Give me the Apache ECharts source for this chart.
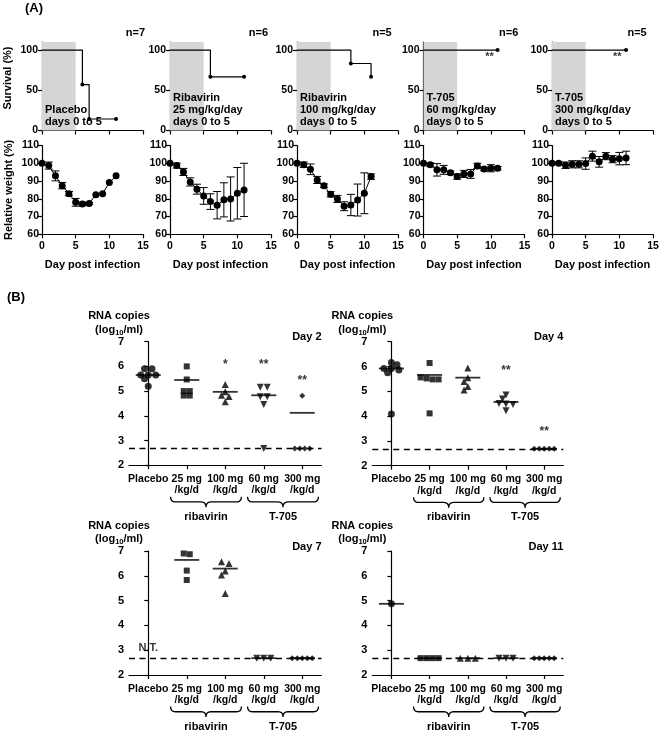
<!DOCTYPE html>
<html><head><meta charset="utf-8">
<script src="https://cdn.jsdelivr.net/npm/echarts@6/dist/echarts.min.js"></script>
<style>html,body{margin:0;padding:0;background:#fff}#c{width:660px;height:734px}</style>
</head><body><div id="c"></div>
<script>
// ================= DATA =================
// ---- Panel A: survival (day, % surviving) ----
const survPlacebo = [[0,100],[6,57.1],[7,14.3],[11,14.3]];
const survRib25   = [[0,100],[6,66.7],[11,66.7]];
const survRib100  = [[0,100],[8,83.3],[11,66.7]];
const survT60     = [[0,100],[11,100]];
const survT300    = [[0,100],[11,100]];
const nLabels = ['n=7','n=6','n=5','n=6','n=5'];
const groupTexts = ['Placebo\ndays 0 to 5','Ribavirin\n25 mg/kg/day\ndays 0 to 5','Ribavirin\n100 mg/kg/day\ndays 0 to 5','T-705\n60 mg/kg/day\ndays 0 to 5','T-705\n300 mg/kg/day\ndays 0 to 5'];
const survSig = [[],[],[],[[9.8,91,'**']],[[9.7,91,'**']]];
const survTicks = [0,50,100];
// ---- Panel A: relative weight (%) mean and SD by day ----
const weightDays = [0,1,2,3,4,5,6,7,8,9,10,11];
const wPlacebo = [100,98.7,92.9,87.4,82.9,78,77.1,77.4,82.3,82.9,89.1,92.9];
const ePlacebo = [0,2,2.8,1.8,1.2,2.2,1,0.6,0,0,0,0];
const wRib25   = [100,98.7,95.1,89.5,85.4,81.6,78.4,76.4,79.4,79.9,83.1,85];
const eRib25   = [0,1.4,2,2.3,2.8,4.7,4.4,7.7,9.6,12.4,14.5,15];
const wRib100  = [100,99.2,96.6,90.6,87.4,82.5,79.9,75.8,76.5,79.3,83.1,92.5];
const eRib100  = [0,1.5,3,2,1,1.5,2,2.5,6,9,11.5,1.5];
const wT60     = [100,99.2,96.3,96.3,94.6,92.5,94,94,98.5,96.8,97.2,97.2];
const eT60     = [0,1,3.5,2.5,1,1.5,2,2.5,1.5,1,2,1];
const wT300    = [100,100,98.9,99.4,99.4,99.8,104,100.8,104,102.3,102.6,103];
const eT300    = [0,0.8,1.8,2,2,3.2,2.8,3,2,2,3.5,3.8];
// ---- Panel B: RNA copies (log10/ml) ----
const catLabels = ['Placebo','25 mg\n/kg/d','100 mg\n/kg/d','60 mg\n/kg/d','300 mg\n/kg/d'];
const LOD = 2.68;
const d2Placebo = [5.9,5.9,5.65,5.65,5.65,5.5,5.2];
const d2Rib25   = [6.0,5.47,5.0,5.0,4.82,4.82];
const d2Rib100  = [5.27,4.97,4.83,4.78,4.57];
const d2T60     = [5.16,5.16,4.77,4.77,4.46,LOD];
const d2T300    = [4.81,LOD,LOD,LOD,LOD];
const d2Means   = [5.65,5.45,4.97,4.83,4.12];
const d2Sig     = [[2,6.06,'*'],[3,6.06,'**'],[4,5.42,'**']];
const d4Placebo = [6.16,6.07,5.92,5.92,5.86,5.75,4.08];
const d4Rib25   = [6.14,5.56,5.52,5.48,5.48,4.11];
const d4Rib100  = [5.94,5.55,5.4,5.19,5.05];
const d4T60     = [4.85,4.69,4.51,4.49,4.47,4.22];
const d4T300    = [LOD,LOD,LOD,LOD,LOD];
const d4Means   = [5.92,5.66,5.55,4.57,LOD];
const d4Sig     = [[3,5.82,'**'],[4,3.37,'**']];
const d7Placebo = [];
const d7Rib25   = [6.87,6.9,6.21,5.83];
const d7Rib100  = [6.57,6.5,6.19,6.03,5.29];
const d7T60     = [LOD,LOD,LOD];
const d7T300    = [LOD,LOD,LOD,LOD,LOD];
const d7Means   = [null,6.64,6.29,LOD,LOD];
const d7Sig     = [[0,3.08,'N.T.']];
const d11Placebo = [4.87];
const d11Rib25   = [LOD,LOD,LOD,LOD];
const d11Rib100  = [LOD,LOD,LOD];
const d11T60     = [LOD,LOD,LOD];
const d11T300    = [LOD,LOD,LOD,LOD,LOD];
const d11Means   = [4.87,LOD,LOD,LOD,LOD];
const d11Sig     = [];

// ================= LAYOUT / STYLE =================
const FONT = '"Liberation Sans", Arial, Helvetica, sans-serif';
const BLACK = '#000';
const GREY = '#d5d5d5';
const aLefts = [42,170,297,423.5,552], aW = 101;
const survTop = 42, survH = 88.5, wtTop = 145.5, wtH = 88.8;
const nRight = [145,268,391.7,518.3,646.7];
const bGrids = [
  {left:129, top:341.7, width:192.5, height:123.5, title:'Day 2'},
  {left:372.3, top:341.7, width:191, height:124, title:'Day 4'},
  {left:129, top:551, width:192.5, height:124, title:'Day 7'},
  {left:372.3, top:551, width:191, height:124, title:'Day 11'}
];
const bData = [
  {groups:[d2Placebo,d2Rib25,d2Rib100,d2T60,d2T300], means:d2Means, sig:d2Sig},
  {groups:[d4Placebo,d4Rib25,d4Rib100,d4T60,d4T300], means:d4Means, sig:d4Sig},
  {groups:[d7Placebo,d7Rib25,d7Rib100,d7T60,d7T300], means:d7Means, sig:d7Sig},
  {groups:[d11Placebo,d11Rib25,d11Rib100,d11T60,d11T300], means:d11Means, sig:d11Sig}
];
const symbols = ['circle','rect','triangle','triangle','diamond'];
const symRot  = [0,0,0,180,0];
const symSize = [7,6,7,7,6];
const symGap  = [7.5,6,7.5,7,5];

const lab = {color:BLACK, fontFamily:FONT, fontWeight:'bold'};
const axLine = {show:true, lineStyle:{color:BLACK, width:1.2}};
const axTick = {show:true, length:4, inside:false, lineStyle:{color:BLACK, width:1.2}};

// beeswarm layout: spreads tied / close values horizontally (px offsets -> data units)
function swarm(vals, s, pxX, pxY){
  const dcoll = 0.65*s;
  const sorted = vals.slice().sort((a,b)=>b-a);
  const groups = [];
  for (const v of sorted){
    const g = groups[groups.length-1];
    if (g && Math.abs(g[0]-v) <= 0.08) g.push(v); else groups.push([v]);
  }
  const cands = [0];
  for (let k=1;k<60;k++){ cands.push(-k*s/4, k*s/4); }
  const placed = [];
  const order = groups.slice().sort((a,b)=> (b.length-a.length) || (b[0]-a[0]));
  for (const g of order){
    const n = g.length;
    const base = g.map((v,j)=>(j-(n-1)/2)*s);
    for (const c of cands){
      const ok = g.every((v,j)=>placed.every(p=>Math.hypot(base[j]+c-p.dx,(v-p.v)*pxY) >= dcoll));
      if (ok){ g.forEach((v,j)=>placed.push({dx:base[j]+c, v:v})); break; }
    }
  }
  return placed.map(p=>[p.dx/pxX, p.v]);
}

function errRender(params, api){
  const x = api.value(0), m = api.value(1), e = api.value(2);
  if (!e) return null;
  const hi = api.coord([x, m+e]), lo = api.coord([x, m-e]);
  const w = 4;
  const st = {stroke:BLACK, lineWidth:1};
  return {type:'group', children:[
    {type:'line', shape:{x1:hi[0],y1:hi[1],x2:lo[0],y2:lo[1]}, style:st},
    {type:'line', shape:{x1:hi[0]-w,y1:hi[1],x2:hi[0]+w,y2:hi[1]}, style:st},
    {type:'line', shape:{x1:lo[0]-w,y1:lo[1],x2:lo[0]+w,y2:lo[1]}, style:st}
  ]};
}

const survData = [survPlacebo,survRib25,survRib100,survT60,survT300];
const wMeans = [wPlacebo,wRib25,wRib100,wT60,wT300];
const wErrs = [ePlacebo,eRib25,eRib100,eT60,eT300];

const grid=[], xAxis=[], yAxis=[], series=[];
function sigSeries(ax, data, fontSize){
  return {type:'scatter', xAxisIndex:ax, yAxisIndex:ax, symbol:'circle', symbolSize:1,
    itemStyle:{color:'rgba(0,0,0,0)'}, z:6, silent:true,
    label:{show:true, position:'inside', formatter:p=>p.data[2], fontSize:fontSize, ...lab},
    data:data};
}

// survival plots
for (let i=0;i<5;i++){
  grid.push({left:aLefts[i], top:survTop, width:aW, height:survH, containLabel:false, outerBoundsMode:'none'});
  xAxis.push({gridIndex:i, type:'value', min:0, max:15, interval:5, axisLine:axLine, axisTick:axTick,
    axisLabel:{show:false}, splitLine:{show:false}});
  yAxis.push({gridIndex:i, type:'value', min:0, max:110, axisLine:axLine,
    axisTick:{...axTick, customValues:survTicks},
    axisLabel:{...lab, fontSize:10.5, margin:4, customValues:survTicks}, splitLine:{show:false}});
  series.push({type:'line', xAxisIndex:i, yAxisIndex:i, step:'end', symbol:'circle', symbolSize:4,
    showSymbol:true, showAllSymbol:true,
    data:survData[i].map((p,j)=> j===0 ? {value:p, symbol:'none'} : {value:p}),
    lineStyle:{color:BLACK, width:1.2}, itemStyle:{color:BLACK}, z:3,
    markArea:{silent:true, itemStyle:{color:GREY}, data:[[{xAxis:0},{xAxis:5}]]}});
  if (survSig[i].length) series.push(sigSeries(i, survSig[i], 11));
}
// weight plots
for (let i=0;i<5;i++){
  const gi = 5+i;
  grid.push({left:aLefts[i], top:wtTop, width:aW, height:wtH, containLabel:false, outerBoundsMode:'none'});
  xAxis.push({gridIndex:gi, type:'value', min:0, max:15, interval:5, axisLine:axLine, axisTick:axTick,
    axisLabel:{...lab, fontSize:10.5, margin:6}, splitLine:{show:false},
    name:'Day post infection', nameLocation:'middle', nameGap:25,
    nameTextStyle:{...lab, fontSize:11}});
  const ya = {gridIndex:gi, type:'value', min:60, max:110, interval:10, axisLine:axLine, axisTick:axTick,
    axisLabel:{...lab, fontSize:10.5, margin:3}, splitLine:{show:false}};
  if (i===0){ Object.assign(ya, {name:'Relative weight (%)', nameLocation:'middle', nameGap:28, nameTextStyle:{...lab, fontSize:11}}); }
  yAxis.push(ya);
  series.push({type:'custom', xAxisIndex:gi, yAxisIndex:gi, renderItem:errRender, z:2,
    data:weightDays.map((d,j)=>[d, wMeans[i][j], wErrs[i][j]])});
  series.push({type:'line', xAxisIndex:gi, yAxisIndex:gi, symbol:'circle', symbolSize:7, showSymbol:true,
    data:weightDays.map((d,j)=>[d, wMeans[i][j]]), lineStyle:{color:BLACK, width:1}, itemStyle:{color:BLACK}, z:3});
}
// RNA plots
const catIdx = [0,1,2,3,4];
bGrids.forEach((g,k)=>{
  const gi = 10+k;
  grid.push({left:g.left, top:g.top, width:g.width, height:g.height, containLabel:false, outerBoundsMode:'none'});
  xAxis.push({gridIndex:gi, type:'value', min:-0.5, max:4.5, axisLine:axLine,
    axisTick:{...axTick, customValues:catIdx},
    axisLabel:{...lab, fontSize:10.5, lineHeight:11.5, margin:8, customValues:catIdx, formatter:v=>catLabels[Math.round(v)]},
    splitLine:{show:false}});
  yAxis.push({gridIndex:gi, type:'value', min:2, max:7, interval:1, axisLine:axLine, axisTick:axTick,
    axisLabel:{...lab, fontSize:11, margin:5}, splitLine:{show:false}});
  const pxX = g.width/5, pxY = g.height/5;
  const bd = bData[k];
  bd.groups.forEach((vals,c)=>{
    if (!vals.length) return;
    const pts = swarm(vals, symGap[c], pxX, pxY).map(p=>[c+p[0], p[1]]);
    series.push({type:'scatter', xAxisIndex:gi, yAxisIndex:gi, symbol:symbols[c], symbolRotate:symRot[c],
      symbolSize:symSize[c], itemStyle:{color:BLACK}, z:3, data:pts});
  });
  series.push({type:'scatter', xAxisIndex:gi, yAxisIndex:gi, symbol:'rect', symbolSize:[25,1.8],
    itemStyle:{color:BLACK}, z:4,
    data:bd.means.map((m,c)=> m==null ? null : [c, m]).filter(d=>d),
    markLine:{silent:true, symbol:['none','none'], label:{show:false},
      lineStyle:{color:BLACK, width:1.4, type:[6,4.5]}, data:[{yAxis:LOD}]}});
  if (bd.sig.length) series.push(sigSeries(gi, bd.sig, bd.sig[0][2]==='N.T.' ? 11 : 12));
});

const chart = echarts.init(document.getElementById('c'));
chart.setOption({animation:false, backgroundColor:'#fff', grid, xAxis, yAxis, series});

// ---------- annotations ----------
const T = (x,y,text,o)=>({type:'text', x:x, y:y, silent:true, z:10,
  style:Object.assign({text:text, fill:BLACK, font:'bold 11px '+FONT, align:'left', verticalAlign:'middle', textAlign:'left', textVerticalAlign:'middle'}, o||{})});
const els = [];
els.push(T(25,8,'(A)',{font:'bold 13px '+FONT}));
els.push(T(7,297,'(B)',{font:'bold 13px '+FONT}));
els.push(Object.assign(T(8,78,'Survival (%)',{align:'center',textAlign:'center'}),{rotation:Math.PI/2}));
for (let i=0;i<5;i++){
  els.push(T(nRight[i],33.3,nLabels[i],{align:'right',textAlign:'right'}));
  els.push(T(aLefts[i]+3,127.5,groupTexts[i],{verticalAlign:'bottom',textVerticalAlign:'bottom',lineHeight:12}));
}
function quad(p0,p1,p2,n){
  const out=[];
  for (let i=0;i<=n;i++){ const t=i/n, u=1-t;
    out.push([u*u*p0[0]+2*u*t*p1[0]+t*t*p2[0], u*u*p0[1]+2*u*t*p1[1]+t*t*p2[1]]); }
  return out;
}
bGrids.forEach((g,k)=>{
  const gi = 10+k;
  const tr = chart.convertToPixel({gridIndex:gi},[4.5,7]);
  const tl = chart.convertToPixel({gridIndex:gi},[-0.5,7]);
  const bl = chart.convertToPixel({gridIndex:gi},[-0.5,2]);
  els.push(T(tr[0],tr[1]-4.5,g.title,{align:'right',textAlign:'right'}));
  els.push(T(tl[0]-10,tl[1]-25.5,'RNA copies',{align:'center',textAlign:'center'}));
  els.push(T(tl[0]-10,tl[1]-12.2,'(log{s|10}/ml)',{align:'center',textAlign:'center',lineHeight:14,
    rich:{s:{font:'bold 7.5px '+FONT, fill:BLACK, verticalAlign:'bottom', lineHeight:14, padding:[3,0,0,0]}}}));
  const y0 = bl[1]+31.5, h = 10.5;
  [[1,2,'ribavirin'],[3,4,'T-705']].forEach(([a,b,name])=>{
    const x1 = chart.convertToPixel({gridIndex:gi},[a-0.42,2])[0];
    const x2 = chart.convertToPixel({gridIndex:gi},[b+0.42,2])[0];
    const xm = (x1+x2)/2, ym = y0+h/2, y1 = y0+h, r = 5;
    const pts = [].concat(
      quad([x1,y0],[x1,ym],[x1+r,ym],6),
      quad([xm-r,ym],[xm,ym],[xm,y1],6),
      quad([xm,y1],[xm,ym],[xm+r,ym],6),
      quad([x2-r,ym],[x2,ym],[x2,y0],6));
    els.push({type:'polyline', silent:true, z:10, shape:{points:pts}, style:{fill:null, stroke:BLACK, lineWidth:1.3}});
    els.push(T(xm, bl[1]+51.5, name, {align:'center',textAlign:'center'}));
  });
});
chart.setOption({graphic:{elements:els}});
</script></body></html>
